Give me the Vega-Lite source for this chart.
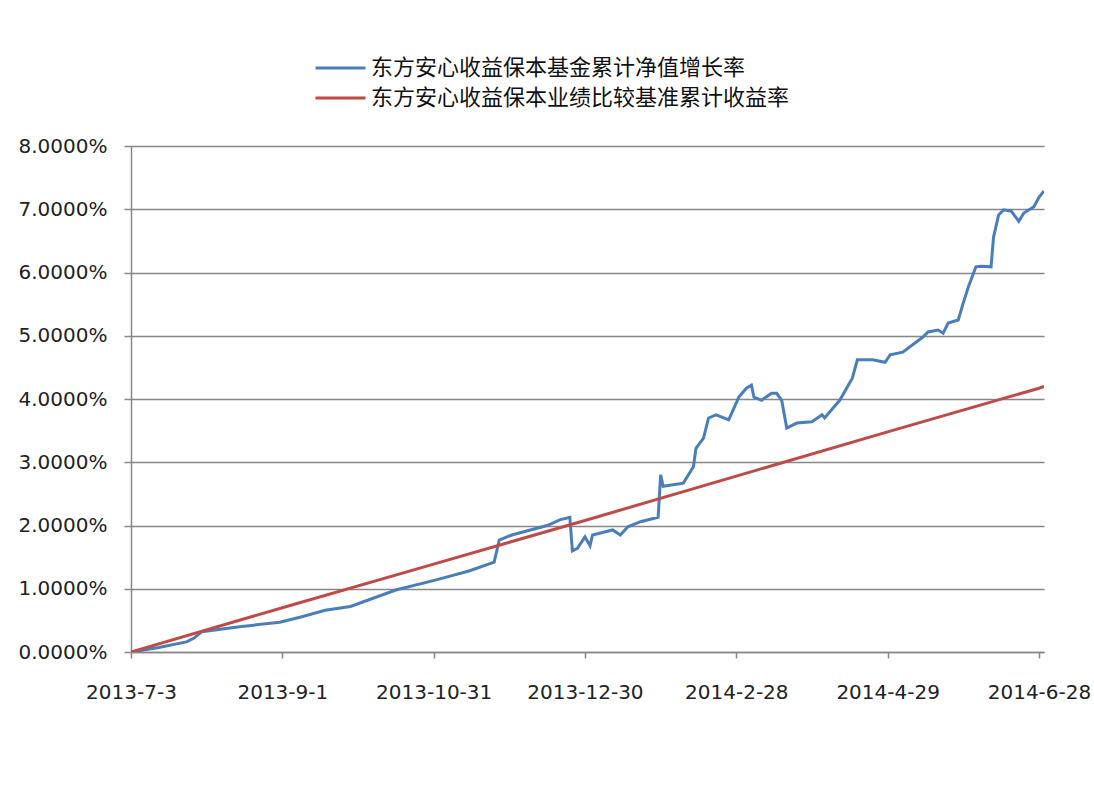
{
  "$schema": "https://vega.github.io/schema/vega-lite/v6.json",
  "width": 913,
  "height": 506,
  "autosize": "none",
  "padding": {"left": 131, "top": 146, "right": 50, "bottom": 144},
  "background": "white",
  "config": {"view": {"stroke": null}},
  "data": {
    "values": [
      {"date": "2013/07/03", "series": "东方安心收益保本基金累计净值增长率", "value": 0},
      {"date": "2013/07/14", "series": "东方安心收益保本基金累计净值增长率", "value": 0.07},
      {"date": "2013/07/25", "series": "东方安心收益保本基金累计净值增长率", "value": 0.16},
      {"date": "2013/07/28", "series": "东方安心收益保本基金累计净值增长率", "value": 0.22},
      {"date": "2013/07/31", "series": "东方安心收益保本基金累计净值增长率", "value": 0.32},
      {"date": "2013/08/15", "series": "东方安心收益保本基金累计净值增长率", "value": 0.40},
      {"date": "2013/08/31", "series": "东方安心收益保本基金累计净值增长率", "value": 0.47},
      {"date": "2013/09/08", "series": "东方安心收益保本基金累计净值增长率", "value": 0.55},
      {"date": "2013/09/18", "series": "东方安心收益保本基金累计净值增长率", "value": 0.66},
      {"date": "2013/09/28", "series": "东方安心收益保本基金累计净值增长率", "value": 0.72},
      {"date": "2013/10/16", "series": "东方安心收益保本基金累计净值增长率", "value": 0.98},
      {"date": "2013/11/01", "series": "东方安心收益保本基金累计净值增长率", "value": 1.14},
      {"date": "2013/11/14", "series": "东方安心收益保本基金累计净值增长率", "value": 1.28},
      {"date": "2013/11/24", "series": "东方安心收益保本基金累计净值增长率", "value": 1.42},
      {"date": "2013/11/26", "series": "东方安心收益保本基金累计净值增长率", "value": 1.77},
      {"date": "2013/12/01", "series": "东方安心收益保本基金累计净值增长率", "value": 1.85},
      {"date": "2013/12/15", "series": "东方安心收益保本基金累计净值增长率", "value": 2.00},
      {"date": "2013/12/20", "series": "东方安心收益保本基金累计净值增长率", "value": 2.09},
      {"date": "2013/12/24", "series": "东方安心收益保本基金累计净值增长率", "value": 2.13},
      {"date": "2013/12/25", "series": "东方安心收益保本基金累计净值增长率", "value": 1.60},
      {"date": "2013/12/27", "series": "东方安心收益保本基金累计净值增长率", "value": 1.64},
      {"date": "2013/12/30", "series": "东方安心收益保本基金累计净值增长率", "value": 1.82},
      {"date": "2014/01/01", "series": "东方安心收益保本基金累计净值增长率", "value": 1.68},
      {"date": "2014/01/02", "series": "东方安心收益保本基金累计净值增长率", "value": 1.85},
      {"date": "2014/01/10", "series": "东方安心收益保本基金累计净值增长率", "value": 1.93},
      {"date": "2014/01/13", "series": "东方安心收益保本基金累计净值增长率", "value": 1.85},
      {"date": "2014/01/16", "series": "东方安心收益保本基金累计净值增长率", "value": 1.98},
      {"date": "2014/01/21", "series": "东方安心收益保本基金累计净值增长率", "value": 2.06},
      {"date": "2014/01/28", "series": "东方安心收益保本基金累计净值增长率", "value": 2.13},
      {"date": "2014/01/29", "series": "东方安心收益保本基金累计净值增长率", "value": 2.80},
      {"date": "2014/01/30", "series": "东方安心收益保本基金累计净值增长率", "value": 2.62},
      {"date": "2014/02/07", "series": "东方安心收益保本基金累计净值增长率", "value": 2.67},
      {"date": "2014/02/11", "series": "东方安心收益保本基金累计净值增长率", "value": 2.93},
      {"date": "2014/02/12", "series": "东方安心收益保本基金累计净值增长率", "value": 3.22},
      {"date": "2014/02/15", "series": "东方安心收益保本基金累计净值增长率", "value": 3.38},
      {"date": "2014/02/17", "series": "东方安心收益保本基金累计净值增长率", "value": 3.70},
      {"date": "2014/02/20", "series": "东方安心收益保本基金累计净值增长率", "value": 3.75},
      {"date": "2014/02/25", "series": "东方安心收益保本基金累计净值增长率", "value": 3.67},
      {"date": "2014/03/01", "series": "东方安心收益保本基金累计净值增长率", "value": 4.03},
      {"date": "2014/03/04", "series": "东方安心收益保本基金累计净值增长率", "value": 4.17},
      {"date": "2014/03/06", "series": "东方安心收益保本基金累计净值增长率", "value": 4.22},
      {"date": "2014/03/07", "series": "东方安心收益保本基金累计净值增长率", "value": 4.03},
      {"date": "2014/03/10", "series": "东方安心收益保本基金累计净值增长率", "value": 3.98},
      {"date": "2014/03/14", "series": "东方安心收益保本基金累计净值增长率", "value": 4.09},
      {"date": "2014/03/16", "series": "东方安心收益保本基金累计净值增长率", "value": 4.09},
      {"date": "2014/03/18", "series": "东方安心收益保本基金累计净值增长率", "value": 3.98},
      {"date": "2014/03/20", "series": "东方安心收益保本基金累计净值增长率", "value": 3.54},
      {"date": "2014/03/24", "series": "东方安心收益保本基金累计净值增长率", "value": 3.62},
      {"date": "2014/03/30", "series": "东方安心收益保本基金累计净值增长率", "value": 3.64},
      {"date": "2014/04/03", "series": "东方安心收益保本基金累计净值增长率", "value": 3.75},
      {"date": "2014/04/04", "series": "东方安心收益保本基金累计净值增长率", "value": 3.70},
      {"date": "2014/04/10", "series": "东方安心收益保本基金累计净值增长率", "value": 3.98},
      {"date": "2014/04/15", "series": "东方安心收益保本基金累计净值增长率", "value": 4.33},
      {"date": "2014/04/17", "series": "东方安心收益保本基金累计净值增长率", "value": 4.62},
      {"date": "2014/04/23", "series": "东方安心收益保本基金累计净值增长率", "value": 4.62},
      {"date": "2014/04/28", "series": "东方安心收益保本基金累计净值增长率", "value": 4.58},
      {"date": "2014/04/30", "series": "东方安心收益保本基金累计净值增长率", "value": 4.70},
      {"date": "2014/05/05", "series": "东方安心收益保本基金累计净值增长率", "value": 4.74},
      {"date": "2014/05/13", "series": "东方安心收益保本基金累计净值增长率", "value": 4.98},
      {"date": "2014/05/15", "series": "东方安心收益保本基金累计净值增长率", "value": 5.06},
      {"date": "2014/05/19", "series": "东方安心收益保本基金累计净值增长率", "value": 5.09},
      {"date": "2014/05/21", "series": "东方安心收益保本基金累计净值增长率", "value": 5.04},
      {"date": "2014/05/23", "series": "东方安心收益保本基金累计净值增长率", "value": 5.20},
      {"date": "2014/05/27", "series": "东方安心收益保本基金累计净值增长率", "value": 5.25},
      {"date": "2014/05/29", "series": "东方安心收益保本基金累计净值增长率", "value": 5.52},
      {"date": "2014/05/31", "series": "东方安心收益保本基金累计净值增长率", "value": 5.77},
      {"date": "2014/06/03", "series": "东方安心收益保本基金累计净值增长率", "value": 6.09},
      {"date": "2014/06/05", "series": "东方安心收益保本基金累计净值增长率", "value": 6.10},
      {"date": "2014/06/09", "series": "东方安心收益保本基金累计净值增长率", "value": 6.09},
      {"date": "2014/06/10", "series": "东方安心收益保本基金累计净值增长率", "value": 6.56},
      {"date": "2014/06/12", "series": "东方安心收益保本基金累计净值增长率", "value": 6.91},
      {"date": "2014/06/14", "series": "东方安心收益保本基金累计净值增长率", "value": 6.99},
      {"date": "2014/06/17", "series": "东方安心收益保本基金累计净值增长率", "value": 6.97},
      {"date": "2014/06/20", "series": "东方安心收益保本基金累计净值增长率", "value": 6.81},
      {"date": "2014/06/22", "series": "东方安心收益保本基金累计净值增长率", "value": 6.94},
      {"date": "2014/06/26", "series": "东方安心收益保本基金累计净值增长率", "value": 7.04},
      {"date": "2014/06/28", "series": "东方安心收益保本基金累计净值增长率", "value": 7.19},
      {"date": "2014/06/30", "series": "东方安心收益保本基金累计净值增长率", "value": 7.29},
      {"date": "2013/07/03", "series": "东方安心收益保本业绩比较基准累计收益率", "value": 0},
      {"date": "2013/09/01", "series": "东方安心收益保本业绩比较基准累计收益率", "value": 0.70},
      {"date": "2013/10/31", "series": "东方安心收益保本业绩比较基准累计收益率", "value": 1.39},
      {"date": "2013/12/30", "series": "东方安心收益保本业绩比较基准累计收益率", "value": 2.08},
      {"date": "2014/02/28", "series": "东方安心收益保本业绩比较基准累计收益率", "value": 2.78},
      {"date": "2014/04/29", "series": "东方安心收益保本业绩比较基准累计收益率", "value": 3.48},
      {"date": "2014/06/28", "series": "东方安心收益保本业绩比较基准累计收益率", "value": 4.17},
      {"date": "2014/06/30", "series": "东方安心收益保本业绩比较基准累计收益率", "value": 4.20}
    ]
  },
  "mark": {"type": "line", "strokeWidth": 3, "clip": true},
  "encoding": {
    "x": {
      "field": "date",
      "type": "temporal",
      "scale": {
        "domain": [
          {"year": 2013, "month": 7, "date": 3},
          {"year": 2014, "month": 6, "date": 30}
        ],
        "nice": false
      },
      "axis": {
        "title": null,
        "values": [
          {"year": 2013, "month": 7, "date": 3},
          {"year": 2013, "month": 9, "date": 1},
          {"year": 2013, "month": 10, "date": 31},
          {"year": 2013, "month": 12, "date": 30},
          {"year": 2014, "month": 2, "date": 28},
          {"year": 2014, "month": 4, "date": 29},
          {"year": 2014, "month": 6, "date": 28}
        ],
        "format": "%Y-%-m-%-d",
        "grid": false,
        "domainColor": "#878787",
        "domainWidth": 1.5,
        "tickColor": "#878787",
        "tickWidth": 1.5,
        "tickSize": 6,
        "labelFont": "DejaVu Sans",
        "labelFontSize": 20,
        "labelColor": "#222222",
        "labelPadding": 24,
        "labelFlush": false,
        "labelOverlap": false
      }
    },
    "y": {
      "field": "value",
      "type": "quantitative",
      "scale": {"domain": [0, 8], "nice": false, "zero": true},
      "axis": {
        "title": null,
        "values": [0, 1, 2, 3, 4, 5, 6, 7, 8],
        "labelExpr": "format(datum.value, '.4f') + '%'",
        "grid": true,
        "gridColor": "#878787",
        "gridWidth": 1.5,
        "domainColor": "#878787",
        "domainWidth": 1.5,
        "tickColor": "#878787",
        "tickWidth": 1.5,
        "tickSize": 7,
        "labelFont": "DejaVu Sans",
        "labelFontSize": 20,
        "labelColor": "#222222",
        "labelPadding": 17
      }
    },
    "color": {
      "field": "series",
      "type": "nominal",
      "scale": {
        "domain": ["东方安心收益保本基金累计净值增长率", "东方安心收益保本业绩比较基准累计收益率"],
        "range": ["#4A7EBB", "#BE4B48"]
      },
      "legend": {
        "title": null,
        "orient": "none",
        "legendX": 183,
        "legendY": -93,
        "direction": "vertical",
        "symbolType": "stroke",
        "symbolStrokeWidth": 3,
        "symbolSize": 2500,
        "clipHeight": 30,
        "rowPadding": 0,
        "padding": 0,
        "labelOffset": 4,
        "labelFont": "Noto Sans CJK SC",
        "labelFontSize": 22,
        "labelColor": "#111111",
        "labelLimit": 0
      }
    }
  }
}
